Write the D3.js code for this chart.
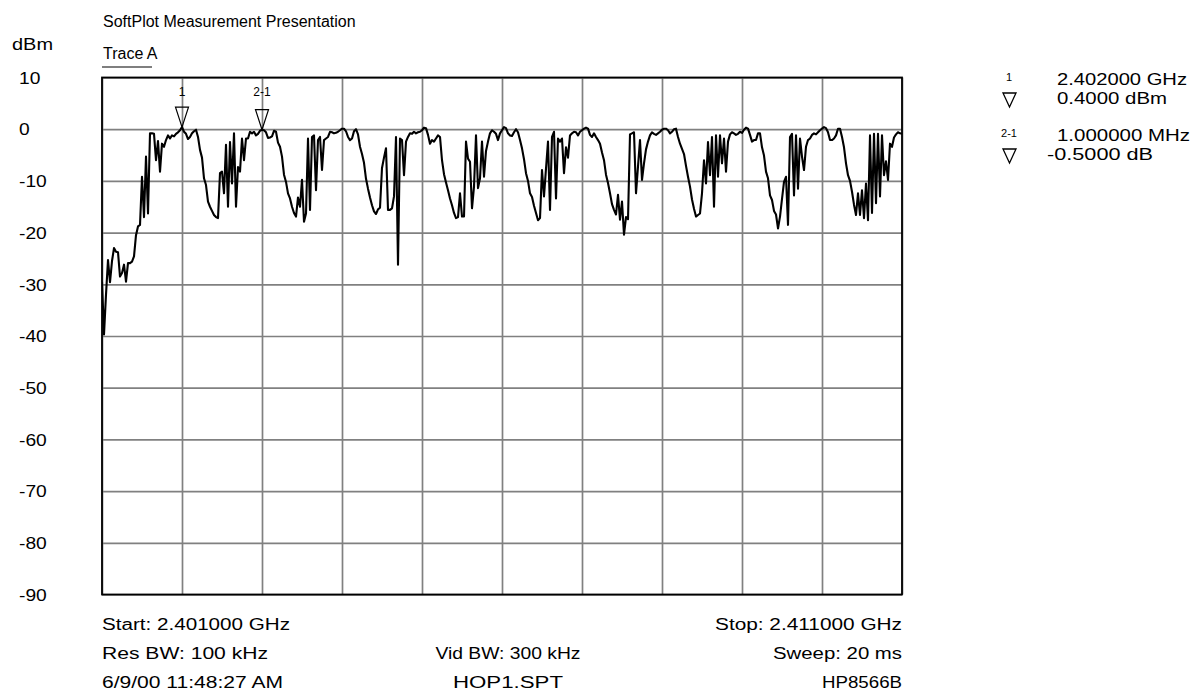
<!DOCTYPE html>
<html>
<head>
<meta charset="utf-8">
<script src="https://cdnjs.cloudflare.com/ajax/libs/d3/7.8.5/d3.min.js"></script>
<style>
  body { margin: 0; background: #fff; }
  text { font-family: "Liberation Sans", Arial, sans-serif; fill: #000; }
</style>
</head>
<body>
<div id="chart"></div>
<script>
// Sweep settings (MHz)
var startMHz = 2401;
var stopMHz = 2411;
var stepMHz = 0.025;

// Grid / tick values
var levelTicks = [10, 0, -10, -20, -30, -40, -50, -60, -70, -80, -90];
var freqTicks = [2401, 2402, 2403, 2404, 2405, 2406, 2407, 2408, 2409, 2410, 2411];

// Trace A, dBm, one value per sweep point
var level = [
  -29.5, -39.7, -32, -25.3, -29.6, -25.5, -23, -23.7, -23.8, -28.5,
  -27.8, -26.2, -29.5, -25.9, -25.9, -25.6, -24.6, -20.5, -18.8, -18.5,
  -9.2, -17, -5.3, -16.3, -0.8, -0.8, -0.9, -6, -2.3, -8.2,
  -2.8, -3.4, -2.1, -1.2, -1.8, -1.2, -1.4, -0.9, -0.6, -0.2,
  0.4, -0.5, -0.9, -1.9, -1.5, -0.8, -0.4, -0.1, -1.5, -4,
  -5.5, -9.5, -10.8, -14, -15, -15.8, -16.6, -17, -17.2, -8.5,
  -8.2, -12.4, -3, -15, -2.5, -10.5, -0.8, -15, -7.3, -8.2,
  -1.8, -6, -1.8, -1.8, -0.5, -0.8, -0.5, -1.2, -0.9, -0.3,
  -0.1, -0.2, -0.6, -1.7, -1.6, -1.4, -0.3, -0.5, -2.6, -3.4,
  -5.3, -8.8, -10.2, -12.4, -13.4, -15, -16.2, -16.9, -13.2, -15,
  -9.8, -17.9, -16.3, -1.8, -15.6, -1.5, -1.2, -11.8, -2.1, -1.5,
  -7.9, -2.1, -1.8, -1.5, -0.5, -0.6, -0.8, -0.7, -0.5, -0.2,
  0.1, 0.1, -0.4, -1.5, -2.1, -1.8, -0.4, 0, -1, -3.4,
  -4.8, -6.5, -9.6, -11.5, -13.2, -14.7, -15.9, -16.4, -15.5, -15.2,
  -7.5, -5.5, -3.7, -15.6, -15.6, -15.3, -13, -1.5, -26.2, -1.8,
  -2.1, -8.9, -2.4, -1.5, -0.8, -0.9, -0.5, -0.8, -0.6, -0.5,
  -0.2, 0.3, 0.2, -1.1, -2.8, -2.1, -2.4, -1.8, -1.2, -1.5,
  -6, -8.7, -10.3, -11.8, -13.4, -14.7, -16.2, -17.2, -17, -12.4,
  -16.9, -16.9, -2.4, -5.7, -6.3, -15.3, -11.1, -1.2, -11.4, -9.5,
  -2.4, -9.2, -4.2, -2.4, -0.8, -0.2, -0.5, -0.9, -2.1, -0.8,
  -0.2, 0.4, 0.2, -0.8, -1.2, -1.3, -0.6, 0, -0.6, -2.1,
  -3.7, -5.8, -8.5, -10, -12.4, -13.1, -14.8, -16.2, -17.6, -17.2,
  -7.9, -13, -7.6, -2.4, -15.6, -1.5, -0.5, -13.4, -1.8, -2.4,
  -1.8, -8.5, -3.5, -5.5, -1.2, -0.8, -0.5, -0.6, -1.2, -0.5,
  -0.2, 0.1, 0.3, 0.1, -1.1, -1.5, -0.8, -1.5, -2.1, -2.8,
  -4.5, -6, -8.8, -10.4, -12.4, -14.5, -15.6, -16.5, -12.7, -17.5,
  -14, -20.4, -17, -17.4, -1, -0.8, -0.6, -12.4, -7.2, -2.1,
  -9.8, -6.6, -3.9, -2.4, -1.2, -0.6, -0.9, -1.1, -0.8, -0.5,
  -0.1, 0.1, 0.1, -0.2, -0.8, -0.5, 0, 0.1, -1.5, -2.8,
  -3.8, -4.8, -7.1, -9.2, -11.1, -13.6, -15.4, -16.9, -16.6, -16.3,
  -12.4, -6, -10.5, -2.5, -8.9, -1.5, -15, -1.2, -9.2, -1.2,
  -6.6, -1.8, -8.2, -2.4, -1, -0.6, -0.8, -1.1, -0.9, -0.5,
  -0.7, -0.1, 0.3, 0.1, -1.1, -2.4, -2.1, -2.1, -0.8, -0.8,
  -3.5, -5.1, -8.2, -9.5, -12.8, -13.7, -15.8, -16.5, -19.2, -16.9,
  -13.5, -10.2, -9.2, -18.5, -1.5, -0.9, -12.8, -1.2, -11.5, -1.8,
  -5.3, -7.9, -3.4, -2.1, -1.8, -1.1, -0.8, -1.0, -0.6, -0.2,
  0.1, 0.4, 0.2, -0.6, -2.1, -2.1, -1.8, -1.2, 0.1, 0.1,
  -1.5, -3.5, -6.6, -8.9, -10, -12.1, -14.6, -16.6, -12.4, -16.6,
  -11.8, -17.2, -10.5, -17.6, -1.2, -16.2, -0.9, -14.3, -0.9, -13,
  -1.2, -8.9, -6.2, -9.8, -2.8, -3.4, -1.6, -1.0, -0.6, -0.8,
  -0.9
];

// Markers
var markerFreqs = [2402, 2403];
var markerNames = ["1", "2-1"];
var readoutFreq = ["2.402000 GHz", "1.000000 MHz"];
var readoutLevel = ["0.4000 dBm", "-0.5000 dB"];

// Footer text rows (left, centre, right)
var footerLeft = ["Start: 2.401000 GHz", "Res BW: 100 kHz", "6/9/00 11:48:27 AM"];
var footerMid = ["", "Vid BW: 300 kHz", "HOP1.SPT"];
var footerRight = ["Stop: 2.411000 GHz", "Sweep: 20 ms", "HP8566B"];

var svgWidth = 1194, svgHeight = 692;
var plot = { left: 102, right: 902, top: 77.5, bottom: 594.5 };

var svg = d3.select("#chart").append("svg")
  .attr("width", svgWidth)
  .attr("height", svgHeight);

var x = d3.scaleLinear().domain([startMHz, stopMHz]).range([plot.left, plot.right]);
var y = d3.scaleLinear().domain([-90, 10]).range([plot.bottom, plot.top]);

// stretch a text to a given pixel width
function fit(sel, w) {
  sel.attr("textLength", w).attr("lengthAdjust", "spacingAndGlyphs");
}

// Grid lines
svg.append("g")
  .attr("transform", `translate(0, ${plot.bottom})`)
  .call(d3.axisBottom(x).tickValues(freqTicks).tickSize(-(plot.bottom - plot.top)).tickFormat(""))
  .call(g => g.select(".domain").remove())
  .call(g => g.selectAll("line").attr("stroke", "#808080").attr("stroke-width", 1.7));

svg.append("g")
  .attr("transform", `translate(${plot.left}, 0)`)
  .call(d3.axisLeft(y).tickValues(levelTicks).tickSize(-(plot.right - plot.left)).tickFormat(""))
  .call(g => g.select(".domain").remove())
  .call(g => g.selectAll("line").attr("stroke", "#808080").attr("stroke-width", 1.7));

// Y labels, left aligned at the page edge
var yLabels = svg.append("g")
  .attr("transform", `translate(${plot.left}, 0)`)
  .call(d3.axisLeft(y).tickValues(levelTicks).tickSize(0).tickFormat(d => d));
yLabels.select(".domain").remove();
yLabels.selectAll("text")
  .attr("x", 19 - plot.left)
  .attr("dy", "0.36em")
  .style("text-anchor", "start")
  .style("font-size", "16px")
  .style("font-family", '"Liberation Sans", Arial, sans-serif')
  .attr("fill", "#000")
  .each(function () {
    d3.select(this).call(fit, this.getComputedTextLength() * 1.2);
  });

// Trace
svg.append("clipPath").attr("id", "clip")
  .append("rect")
  .attr("x", plot.left).attr("y", plot.top)
  .attr("width", plot.right - plot.left).attr("height", plot.bottom - plot.top);

var line = d3.line()
  .x((d, i) => x(startMHz + i * stepMHz))
  .y(d => y(d));

svg.append("path")
  .datum(level)
  .attr("clip-path", "url(#clip)")
  .attr("fill", "none")
  .attr("stroke", "#000")
  .attr("stroke-width", 2.1)
  .attr("stroke-linejoin", "round")
  .attr("d", line);

// Frame
svg.append("rect")
  .attr("x", plot.left).attr("y", plot.top)
  .attr("width", plot.right - plot.left).attr("height", plot.bottom - plot.top)
  .attr("fill", "none").attr("stroke", "#000").attr("stroke-width", 1.8);

// Markers on the trace
markerFreqs.forEach(function (f, k) {
  var i = Math.round((f - startMHz) / stepMHz);
  var mx = x(f), my = y(level[i]);
  svg.append("path")
    .attr("d", `M${mx - 6.5},${my - 20}L${mx + 6.5},${my - 20}L${mx},${my}Z`)
    .attr("fill", "none").attr("stroke", "#000").attr("stroke-width", 1.2);
  svg.append("text")
    .attr("x", mx).attr("y", 96)
    .attr("text-anchor", "middle")
    .style("font-size", "12px")
    .text(markerNames[k]);
});

// Title block
svg.append("text").attr("x", 103).attr("y", 27).style("font-size", "16px")
  .text("SoftPlot Measurement Presentation");
svg.append("text").attr("x", 12).attr("y", 50).style("font-size", "16px")
  .text("dBm").call(fit, 41);
svg.append("text").attr("x", 103).attr("y", 59).style("font-size", "16px")
  .text("Trace A");
svg.append("line")
  .attr("x1", 102).attr("x2", 152).attr("y1", 67).attr("y2", 67)
  .attr("stroke", "#000").attr("stroke-width", 1.2);

// Marker readout panel
var panelTop = [85, 141];
var readFW = [130, 133];
var readLW = [110, 106];
var readLX = [1057, 1047];
markerNames.forEach(function (name, k) {
  var by = panelTop[k];
  svg.append("text").attr("x", 1009).attr("y", by - 4)
    .attr("text-anchor", "middle").style("font-size", "11px").text(name);
  svg.append("text").attr("x", 1057).attr("y", by).style("font-size", "16px")
    .text(readoutFreq[k]).call(fit, readFW[k]);
  svg.append("path")
    .attr("d", `M${1003},${by + 8}L${1016},${by + 8}L${1009.5},${by + 22}Z`)
    .attr("fill", "none").attr("stroke", "#000").attr("stroke-width", 1.3);
  svg.append("text").attr("x", readLX[k]).attr("y", by + 19).style("font-size", "16px")
    .text(readoutLevel[k]).call(fit, readLW[k]);
});

// Footer
var rowY = [630, 659, 688];
var leftW = [188, 166, 181];
var midW = [0, 145, 110];
var rightW = [187, 129, 80];
footerLeft.forEach(function (t, r) {
  svg.append("text").attr("x", 102).attr("y", rowY[r]).style("font-size", "16px")
    .text(t).call(fit, leftW[r]);
  if (footerMid[r]) {
    svg.append("text").attr("x", 508 - midW[r] / 2).attr("y", rowY[r]).style("font-size", "16px")
      .text(footerMid[r]).call(fit, midW[r]);
  }
  svg.append("text").attr("x", 902 - rightW[r]).attr("y", rowY[r]).style("font-size", "16px")
    .text(footerRight[r]).call(fit, rightW[r]);
});
</script>
</body>
</html>
